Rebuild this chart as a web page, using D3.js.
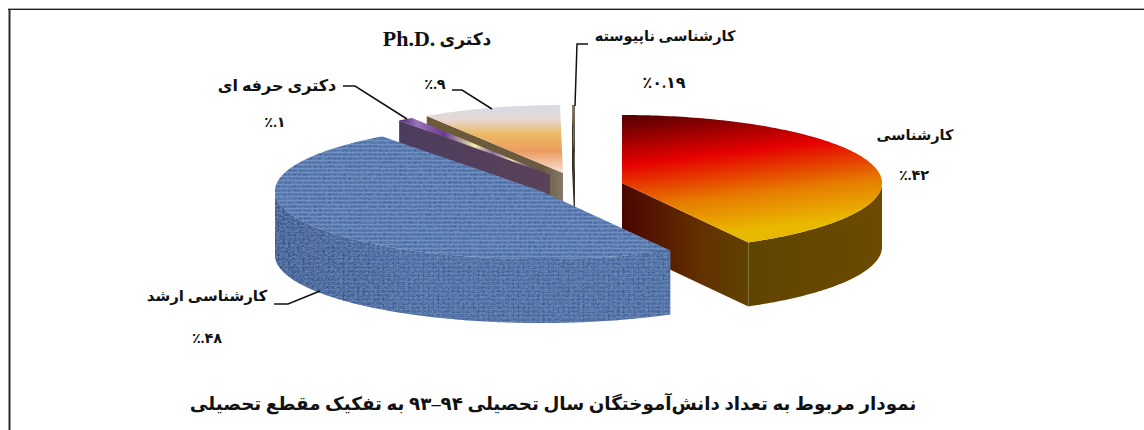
<!DOCTYPE html>
<html lang="fa"><head><meta charset="utf-8">
<script src="https://cdn.jsdelivr.net/npm/d3@7/dist/d3.min.js"></script>
<style>html,body{margin:0;padding:0;background:#fff}svg{display:block}
text{font-family:"Liberation Serif","DejaVu Sans",serif;font-weight:700;fill:#111}</style></head>
<body><svg id="c" width="1144" height="430"></svg>
<script>
// Data
const categories = ["کارشناسی","کارشناسی ارشد","دکتری حرفه ای","Ph.D. دکتری","کارشناسی ناپیوسته"];
const values = [42,48,1,9,0.19];
const valueLabels = ["٪.۴۲","٪.۴۸","٪.۱","٪.۹","٪۰.۱۹"];
const chartTitle = "نمودار مربوط به تعداد دانش‌آموختگان سال تحصیلی ۹۴–۹۳ به تفکیک مقطع تحصیلی";

// Layout (exploded-slice centres and label placement, in the same order as the data)
const centers = [[622,183],[541,191],[550,175],[563,173],[575,173]];
const radiiX = [260,266,253,250,250];
const radiusY = 68, depth = 64;
const drawOrder = [4,3,2,0,1];
const nameAt = [[915,137,14.5],[207,298,15],[277,87,16],[437,41,17],[665,38,14.5]];
const valueAt = [[914,177,14.5],[207,340,14.5],[275,124,14.5],[435,86,14.5],[664,84,16]];
const leaders = [null,
  [[274,304],[288,304],[320,291]],
  [[343,86],[355,86],[407,119]],
  [[452,90],[462,90],[492,109]],
  [[588,44],[577,44],[575,106]]];

const svg = d3.select("#c");
const defs = svg.append("defs");
function grad(id, v, stops){
  const g = defs.append("linearGradient").attr("id",id).attr("gradientUnits","userSpaceOnUse")
    .attr("x1",v[0]).attr("y1",v[1]).attr("x2",v[2]).attr("y2",v[3]);
  stops.forEach(s=>{const e=g.append("stop").attr("offset",s[0]).attr("stop-color",s[1]); if(s[2]!==undefined) e.attr("stop-opacity",s[2]);});
}
grad("redTop",[650,115,665,240],[[0,"#5c0000"],[.37,"#e60000"],[.72,"#e67c00"],[1,"#e9b800"]]);
grad("redSide",[622,0,882,0],[[0,"#4a0500"],[.3,"#633000"],[.5,"#5f4400"],[1,"#6c4a00"]]);
grad("phdTop",[0,106,0,173],[[0,"#d6dbe6"],[.2,"#e6d8d4"],[.42,"#ecb964"],[.68,"#ec9c60"],[1,"#f4e4d8"]]);
grad("phdSide",[427,0,563,0],[[0,"#6e5a38"],[.85,"#6a5a40"],[1,"#857868"]]);
grad("purTop",[399,0,550,0],[[0,"#4c2470"],[.12,"#9a70b8"],[.3,"#6a3c90"],[.5,"#f0ecb0"],[.62,"#8a6aa8"],[.75,"#f0e8b0"],[.85,"#7a54a0"],[1,"#2e1648"]]);
grad("purSide",[399,0,550,0],[[0,"#4c3c5e"],[1,"#5a4258"]]);
grad("thinTop",[0,106,0,173],[[0,"#7a705c"],[1,"#3a3428"]]);
grad("blueShade",[275,0,420,0],[[0,"#1c3566",.3],[1,"#1c3566",0]]);

// Woven cloth texture for the large slice
const tile = defs.append("pattern").attr("id","weave").attr("patternUnits","userSpaceOnUse").attr("width",5).attr("height",4);
tile.append("rect").attr("width",5).attr("height",4).attr("fill","#4d72ad");
tile.append("rect").attr("y",0).attr("width",5).attr("height",1).attr("fill","#6f92c6");
tile.append("rect").attr("x",2).attr("width",1).attr("height",4).attr("fill","#7090c4").attr("opacity",.5);
tile.append("rect").attr("y",2).attr("width",5).attr("height",1).attr("fill","#3e619c").attr("opacity",.6);
const weaveSide = defs.append("pattern").attr("id","weaveSide").attr("patternUnits","userSpaceOnUse").attr("width",5).attr("height",4);
weaveSide.append("rect").attr("width",5).attr("height",4).attr("fill","#46699f");
weaveSide.append("rect").attr("y",1).attr("width",5).attr("height",1).attr("fill","#6587bc").attr("opacity",.8);
weaveSide.append("rect").attr("x",3).attr("width",1).attr("height",4).attr("fill","#33558e").attr("opacity",.6);
const f = defs.append("filter").attr("id","grain").attr("x",0).attr("y",0).attr("width","100%").attr("height","100%");
f.append("feTurbulence").attr("type","fractalNoise").attr("baseFrequency","0.35 0.55").attr("numOctaves",2).attr("seed",4).attr("result","n");
f.append("feColorMatrix").attr("in","n").attr("type","matrix")
  .attr("values","0 0 0 0 .18  0 0 0 0 .28  0 0 0 0 .5  1.6 0 0 0 -.55").attr("result","d");
f.append("feComposite").attr("in","d").attr("in2","SourceAlpha").attr("operator","in").attr("result","m");
f.append("feMerge").call(s=>{s.append("feMergeNode").attr("in","SourceGraphic");s.append("feMergeNode").attr("in","m");});

// Frame
svg.append("line").attr("x1",8).attr("x2",1144).attr("y1",8.5).attr("y2",8.5).attr("stroke","#a8a8a8");
svg.append("line").attr("x1",8).attr("x2",1144).attr("y1",9.5).attr("y2",9.5).attr("stroke","#222");
svg.append("line").attr("x1",9.5).attr("x2",9.5).attr("y1",9).attr("y2",430).attr("stroke","#2a2a2a").attr("stroke-width",2);

// Slices from d3.pie, projected on to the tilted ellipse
const arcs = d3.pie().sort(null).value(d=>d).startAngle(0).endAngle(2*Math.PI)(values);
const project = (i,a,dz=0)=>[centers[i][0]+radiiX[i]*Math.sin(a), centers[i][1]-radiusY*Math.cos(a)+dz];
const line = d3.line();
const sweep = (a0,a1)=>{const n=Math.max(2,Math.ceil(Math.abs(a1-a0)*60));return d3.range(n+1).map(k=>a0+(a1-a0)*k/n);};
const styles = [
  {top:"url(#redTop)",side:"url(#redSide)",wall:"url(#redSide)",radial:"end"},
  {top:"url(#weave)",side:"url(#weaveSide)",shade:"url(#blueShade)",filter:"url(#grain)"},
  {top:"url(#purTop)",side:"url(#purSide)",wall:"url(#purSide)",radial:"start"},
  {top:"url(#phdTop)",side:"url(#phdSide)",wall:"url(#phdSide)",radial:"start"},
  {top:"url(#thinTop)",side:"#3a3428",wall:"#3a3428",radial:"start"}
];
drawOrder.forEach(i=>{
  const d = arcs[i], st = styles[i], g = svg.append("g").attr("filter",st.filter||null);
  const c = centers[i], cb = [c[0],c[1]+depth];
  if(st.radial){
    const a = st.radial==="end"?d.endAngle:d.startAngle;
    const p = project(i,a);
    g.append("path").attr("fill",st.wall).attr("d",line([c,p,[p[0],p[1]+depth],cb])+"Z");
  }
  const a0 = Math.max(d.startAngle,Math.PI/2), a1 = Math.min(d.endAngle,1.5*Math.PI);
  if(a1>a0){
    const up = sweep(a0,a1).map(a=>project(i,a));
    const dn = sweep(a1,a0).map(a=>project(i,a,depth));
    const wall = line(up.concat(dn))+"Z";
    g.append("path").attr("fill",st.side).attr("d",wall);
    if(st.shade) g.append("path").attr("fill",st.shade).attr("d",wall);
  }
  g.append("path").attr("fill",st.top).attr("d",line([c].concat(sweep(d.startAngle,d.endAngle).map(a=>project(i,a))))+"Z");
});

// Leaders
leaders.forEach(l=>{ if(l) svg.append("path").attr("d",line(l)).attr("fill","none").attr("stroke","#111").attr("stroke-width",1.5); });

// Labels
categories.forEach((t,i)=>{
  const el = svg.append("text").attr("x",nameAt[i][0]).attr("y",nameAt[i][1]).attr("text-anchor","middle")
    .attr("dominant-baseline","middle").attr("font-size",nameAt[i][2])
    .attr("direction",t.startsWith("Ph")?"ltr":"rtl");
  if(t.startsWith("Ph")){
    const parts = t.split(" ");
    el.append("tspan").attr("font-size",22).text(parts[0]);
    el.append("tspan").text(" "+parts[1]);
  } else el.text(t);
  svg.append("text").attr("x",valueAt[i][0]).attr("y",valueAt[i][1]).attr("text-anchor","middle")
    .attr("dominant-baseline","middle").attr("font-size",valueAt[i][2]).attr("direction","ltr").text(valueLabels[i]);
});
svg.append("text").attr("x",553).attr("y",406).attr("text-anchor","middle").attr("dominant-baseline","middle")
  .attr("font-size",18.3).attr("direction","rtl").text(chartTitle);
</script></body></html>
